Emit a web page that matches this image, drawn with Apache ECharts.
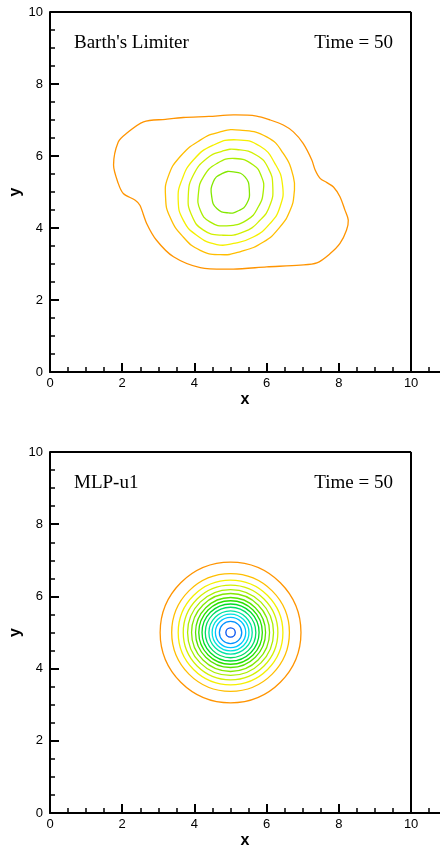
<!DOCTYPE html>
<html>
<head>
<meta charset="utf-8">
<script src="https://cdn.jsdelivr.net/npm/echarts@6/dist/echarts.min.js"></script>
<style>
html,body{margin:0;padding:0;background:#fff;}
#chart{width:440px;height:849px;}
</style>
</head>
<body>
<div id="chart"></div>
<script>
// ---- tick values ----
const xMajorTicks = [0, 2, 4, 6, 8, 10];
const xMinorTicks = [0.5, 1, 1.5, 2.5, 3, 3.5, 4.5, 5, 5.5, 6.5, 7, 7.5, 8.5, 9, 9.5, 10.5];

// ---- panel texts ----
const panelTitles = ["Barth's Limiter", "MLP-u1"];
const timeLabel = "Time = 50";

// ---- top panel (Barth's limiter) contour lines, outer to inner (closed loops) ----
const barthLevel1 = [[2.59,6.95],[3.20,7.02],[3.69,7.07],[4.40,7.10],[5.08,7.14],[5.72,7.11],[6.10,7.00],[6.46,6.86],[6.74,6.67],[7.01,6.35],[7.25,5.89],[7.34,5.62],[7.48,5.38],[7.67,5.26],[7.85,5.14],[8.03,4.87],[8.17,4.49],[8.26,4.22],[8.21,3.94],[8.03,3.57],[7.76,3.29],[7.39,3.03],[6.93,2.97],[6.00,2.92],[5.08,2.86],[4.16,2.90],[3.42,3.20],[2.95,3.66],[2.68,4.12],[2.49,4.63],[2.36,4.77],[2.03,4.96],[1.89,5.24],[1.76,5.75],[1.89,6.39],[2.12,6.63]];
const barthLevel2 = [[5.26,6.72],[6.00,6.53],[6.46,6.07],[6.74,5.42],[6.76,4.96],[6.65,4.49],[6.37,4.03],[5.91,3.61],[5.26,3.34],[4.71,3.26],[4.16,3.38],[3.69,3.75],[3.32,4.31],[3.20,4.87],[3.27,5.42],[3.60,5.98],[4.16,6.44],[4.71,6.67]];
const barthLevel3 = [[5.17,6.45],[5.82,6.27],[6.23,5.79],[6.44,5.19],[6.37,4.59],[6.09,4.12],[5.63,3.75],[5.08,3.57],[4.62,3.54],[4.06,3.80],[3.69,4.22],[3.55,4.77],[3.65,5.33],[3.97,5.89],[4.52,6.30]];
const barthLevel4 = [[5.17,6.18],[5.72,6.02],[6.05,5.65],[6.17,5.14],[6.09,4.63],[5.82,4.22],[5.36,3.89],[4.76,3.80],[4.25,3.94],[3.92,4.36],[3.83,4.91],[3.97,5.47],[4.34,5.93],[4.76,6.13]];
const barthLevel5 = [[5.12,5.93],[5.63,5.75],[5.86,5.42],[5.91,5.05],[5.77,4.59],[5.45,4.22],[4.89,4.06],[4.43,4.17],[4.16,4.50],[4.11,4.96],[4.25,5.42],[4.62,5.79]];
const barthLevel6 = [[5.08,5.56],[5.40,5.42],[5.52,5.05],[5.45,4.68],[5.22,4.48],[4.94,4.42],[4.62,4.54],[4.48,4.86],[4.52,5.28],[4.76,5.51]];

// ---- bottom panel (MLP-u1): concentric contour circles, outer to inner ----
const mlpCenter = [5, 5];
const mlpRadii = [1.95, 1.63, 1.45, 1.31, 1.19, 1.08, 0.97, 0.88, 0.79, 0.70, 0.60, 0.51, 0.42, 0.31, 0.13];

// contour level colours (outer/low -> inner/high)
const levelColors = ['#FF9400','#FFBE00','#F5F000','#D2F000','#AAEE00','#82E800','#55E400','#28E000','#00DC28','#00DC64','#00E2A0','#00E2DC','#00C4FF','#0092FF','#0050F0'];

const barthLevels = [barthLevel1, barthLevel2, barthLevel3, barthLevel4, barthLevel5, barthLevel6];

const chart = echarts.init(document.getElementById('chart'), null, {renderer: 'canvas'});

const FONT = 'Liberation Sans, Arial, sans-serif';
const SERIF = 'Liberation Serif, Times New Roman, serif';

function mainX(gridIndex) {
  return {
    type: 'value', gridIndex: gridIndex, min: 0, max: 10.8, position: 'bottom',
    name: 'x', nameLocation: 'middle', nameGap: 20, nameMoveOverlap: false,
    nameTextStyle: {fontFamily: FONT, fontWeight: 'bold', fontSize: 16, color: '#000'},
    axisLine: {show: true, onZero: false, lineStyle: {color: '#000', width: 2}},
    axisTick: {show: true, inside: true, length: 9, customValues: xMajorTicks, lineStyle: {color: '#000', width: 2}},
    axisLabel: {show: true, customValues: xMajorTicks, margin: 5, fontFamily: FONT, fontSize: 13, color: '#000'},
    splitLine: {show: false}
  };
}
function minorX(gridIndex) {
  return {
    type: 'value', gridIndex: gridIndex, min: 0, max: 10.8, position: 'bottom', offset: 0,
    axisLine: {show: false, onZero: false},
    axisTick: {show: true, inside: true, length: 5, customValues: xMinorTicks, lineStyle: {color: '#000', width: 1.5}},
    axisLabel: {show: false},
    splitLine: {show: false}
  };
}
function mainY(gridIndex) {
  return {
    type: 'value', gridIndex: gridIndex, min: 0, max: 10, interval: 2, position: 'left',
    name: 'y', nameLocation: 'middle', nameGap: 26, nameRotate: 90, nameMoveOverlap: false,
    nameTextStyle: {fontFamily: FONT, fontWeight: 'bold', fontSize: 16, color: '#000'},
    axisLine: {show: true, onZero: false, lineStyle: {color: '#000', width: 2}},
    axisTick: {show: true, inside: true, length: 9, lineStyle: {color: '#000', width: 2}},
    minorTick: {show: true, splitNumber: 4, length: 5, lineStyle: {color: '#000', width: 1.5}},
    axisLabel: {show: true, margin: 7, fontFamily: FONT, fontSize: 13, color: '#000'},
    splitLine: {show: false}, minorSplitLine: {show: false}
  };
}

const frameLine = {
  silent: true, symbol: 'none', animation: false,
  label: {show: false},
  lineStyle: {color: '#000', width: 2, type: 'solid'},
  data: [
    [{coord: [0, 10]}, {coord: [10, 10]}],
    [{coord: [10, 0]}, {coord: [10, 10]}]
  ]
};

const series = [];
barthLevels.forEach(function (pts, i) {
  series.push({
    type: 'custom', xAxisIndex: 0, yAxisIndex: 0,
    data: pts, encode: {x: 0, y: 1},
    animation: false, silent: true, clip: true,
    renderItem: function (params, api) {
      if (params.dataIndex !== 0) return null;
      return {
        type: 'polygon',
        shape: {points: pts.map(function (p) { return api.coord(p); }), smooth: i === 0 ? 0.3 : 0.5},
        style: {fill: null, stroke: levelColors[i], lineWidth: 1.3}
      };
    },
    markLine: i === 0 ? frameLine : undefined
  });
});

series.push({
  type: 'custom', xAxisIndex: 2, yAxisIndex: 1,
  data: mlpRadii.map(function (r) { return [mlpCenter[0], mlpCenter[1], r]; }),
  encode: {x: 0, y: 1},
  animation: false, silent: true,
  renderItem: function (params, api) {
    const c = api.coord([api.value(0), api.value(1)]);
    const s = api.size([api.value(2), api.value(2)]);
    return {
      type: 'ellipse',
      shape: {cx: c[0], cy: c[1], rx: s[0], ry: s[1]},
      style: {fill: null, stroke: levelColors[params.dataIndex], lineWidth: 1.3}
    };
  },
  markLine: frameLine
});

const option = {
  backgroundColor: '#fff',
  animation: false,
  grid: [
    {left: 50, top: 12, width: 390, height: 360, containLabel: false, outerBoundsMode: 'none'},
    {left: 50, top: 452, width: 390, height: 361, containLabel: false, outerBoundsMode: 'none'}
  ],
  xAxis: [mainX(0), minorX(0), mainX(1), minorX(1)],
  yAxis: [mainY(0), mainY(1)],
  graphic: [
    {type: 'text', left: 74, top: 34, style: {text: panelTitles[0], font: '19px ' + SERIF, fill: '#000'}},
    {type: 'text', right: 47, top: 34, style: {text: timeLabel, font: '19px ' + SERIF, fill: '#000'}},
    {type: 'text', left: 74, top: 474, style: {text: panelTitles[1], font: '19px ' + SERIF, fill: '#000'}},
    {type: 'text', right: 47, top: 474, style: {text: timeLabel, font: '19px ' + SERIF, fill: '#000'}}
  ],
  series: series
};

chart.setOption(option);
</script>
</body>
</html>
